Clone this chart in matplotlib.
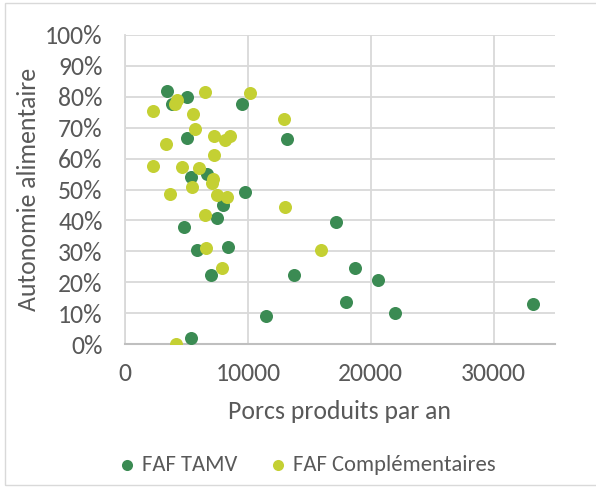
import matplotlib.pyplot as plt
from matplotlib.patches import Rectangle
from matplotlib.ticker import PercentFormatter

# FAF TAMV
tamv_x = [3415, 5010, 3790, 9510, 5010, 13170, 6690, 5390, 9780, 7970, 7510, 17180,
          4800, 8400, 5900, 18750, 13790, 6990, 20620, 17970, 33170, 21950, 11460, 5340]
tamv_y = [81.8, 80.0, 77.7, 77.8, 66.8, 66.2, 54.9, 53.9, 49.2, 45.0, 40.8, 39.4,
          38.0, 31.3, 30.4, 24.5, 22.3, 22.4, 20.6, 13.7, 12.9, 10.0, 9.1, 2.0]

# FAF Complementaires
comp_x = [6500, 10160, 4200, 4070, 2250, 5500, 12980, 5720, 7210, 8510, 8130, 3310,
          7280, 2280, 4610, 5990, 7180, 7070, 5450, 3630, 7480, 8290, 13000, 6500,
          6560, 15960, 7910, 4120]
comp_y = [81.6, 81.3, 79.0, 77.6, 75.4, 74.5, 72.8, 69.5, 67.2, 67.2, 66.0, 64.8,
          61.3, 57.7, 57.4, 57.0, 53.3, 52.2, 50.9, 48.6, 48.2, 47.6, 44.4, 41.6,
          31.1, 30.4, 24.5, 0.0]

plt.rcParams['font.family'] = ['Carlito', 'Lato', 'DejaVu Sans']
txt = '#595959'

fig = plt.figure(figsize=(5.96, 4.88), dpi=100)
ax = fig.add_axes([125/596, 1 - 344/488, (555-125)/596, (344-35)/488])

ax.scatter(tamv_x, tamv_y, s=88, color='#3B8B53', label='FAF TAMV', zorder=3, linewidths=0)
ax.scatter(comp_x, comp_y, s=88, color='#C4D033', label='FAF Complémentaires', zorder=4, linewidths=0)

ax.set_xlim(0, 35000)
ax.set_ylim(0, 100)
ax.set_xticks([0, 10000, 20000, 30000])
ax.set_yticks(range(0, 101, 10))
ax.yaxis.set_major_formatter(PercentFormatter(decimals=0))
ax.grid(True, color='#D9D9D9', linewidth=1.3, zorder=0)
ax.set_axisbelow(True)
for s in ['top', 'right']:
    ax.spines[s].set_visible(False)
ax.spines['left'].set_color('#D9D9D9')
ax.spines['left'].set_linewidth(1.3)
ax.spines['bottom'].set_color('#BFBFBF')
ax.spines['bottom'].set_linewidth(1.5)
ax.tick_params(length=0, labelsize=18.5, colors=txt)
ax.tick_params(axis='y', pad=16)
ax.tick_params(axis='x', pad=13)

ax.set_xlabel('Porcs produits par an', fontsize=18.5, color=txt, labelpad=11)
ax.set_ylabel('Autonomie alimentaire', fontsize=18.5, color=txt, labelpad=4)

fig.legend(loc='center', bbox_to_anchor=(0.513, 1 - 465/488), ncol=2, frameon=False,
           fontsize=16.3, labelcolor=txt, handlelength=1.0, handletextpad=0.15,
           columnspacing=1.3, markerscale=0.85)

fig.patches.append(Rectangle((5/596, 3/488), 600/596, 482/488, transform=fig.transFigure,
                             fill=False, edgecolor='#D9D9D9', linewidth=1))

fig.savefig('out.png', dpi=100)
